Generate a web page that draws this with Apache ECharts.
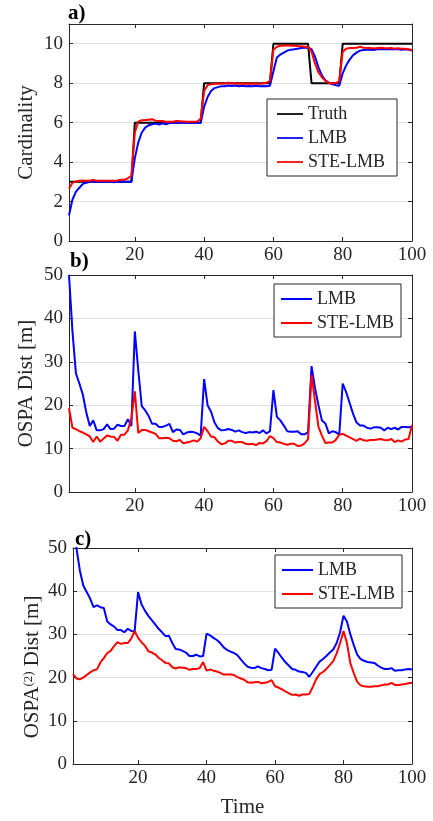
<!DOCTYPE html>
<html>
<head>
<meta charset="utf-8">
<script src="https://cdn.jsdelivr.net/npm/echarts@6/dist/echarts.min.js"></script>
<style>html,body{margin:0;padding:0;background:#fff;}#c{width:433px;height:821px;}</style>
</head>
<body>
<div id="c"></div>
<script>
// ---- data ----
const xTicks = [20, 40, 60, 80, 100];
const cardTicks = [0, 2, 4, 6, 8, 10];
const ospaTicks = [0, 10, 20, 30, 40, 50];

const truthCard = [
 3,3,3,3,3,3,3,3,3,3,3,3,3,3,3,3,3,3,3,
 6,6,6,6,6,6,6,6,6,6,6,6,6,6,6,6,6,6,6,6,
 8,8,8,8,8,8,8,8,8,8,8,8,8,8,8,8,8,8,8,8,
 10,10,10,10,10,10,10,10,10,10,10,
 8,8,8,8,8,8,8,8,8,
 10,10,10,10,10,10,10,10,10,10,10,10,10,10,10,10,10,10,10,10,10
];
const lmbCard = [
 1.3,2.1,2.5,2.7,2.9,2.95,3.0,3.0,3.02,3.0,3.0,3.0,3.0,2.98,3.02,3.0,3.0,3.0,3.0,
 4.2,5.0,5.5,5.75,5.87,5.92,5.95,5.9,5.97,5.92,5.98,6.0,6.0,6.0,6.0,6.0,5.98,6.0,6.0,5.98,
 6.8,7.3,7.6,7.75,7.8,7.85,7.85,7.88,7.86,7.88,7.85,7.87,7.84,7.86,7.85,7.87,7.84,7.86,7.85,7.87,
 8.6,9.3,9.45,9.55,9.65,9.7,9.72,9.75,9.78,9.8,9.8,
 9.72,9.35,8.8,8.4,8.15,8.02,7.95,7.9,7.87,
 8.5,8.9,9.2,9.42,9.55,9.65,9.68,9.7,9.7,9.68,9.72,9.72,9.73,9.72,9.73,9.72,9.72,9.7,9.72,9.7,9.65
];
const steCard = [
 2.65,2.95,3.02,3.05,3.07,3.05,3.05,3.1,3.05,3.05,3.05,3.05,3.05,3.05,3.07,3.1,3.1,3.18,3.3,
 5.5,6.05,6.12,6.13,6.15,6.17,6.1,6.08,6.08,6.05,6.05,6.05,6.08,6.07,6.06,6.05,6.05,6.05,6.06,6.2,
 7.6,7.9,7.95,7.97,7.97,7.98,7.98,8.02,7.98,7.98,7.97,7.98,7.97,7.98,7.97,7.98,7.97,8.0,8.02,8.12,
 9.7,9.85,9.9,9.9,9.92,9.9,9.9,9.88,9.87,9.85,9.85,
 9.6,9.0,8.55,8.3,8.12,8.02,7.98,8.0,8.1,
 9.6,9.75,9.78,9.78,9.8,9.85,9.8,9.78,9.78,9.76,9.78,9.8,9.78,9.77,9.78,9.75,9.77,9.75,9.75,9.72,9.68
];
const lmbOspa = [
 50,37,27.3,25,22.4,18.3,15.2,16.5,14.2,14.2,14.5,15.6,14.5,14.6,15.5,15.2,15.2,16.8,15.2,37,
 28,19.8,18.8,17.5,15.7,15.7,15.0,15.0,15.3,15.7,13.8,14.4,14.3,13.3,13.7,13.9,13.8,13.5,13.0,26,
 20,18.5,16,14.7,14.2,14.3,14.5,14.3,13.9,14.2,13.8,13.6,13.8,13.7,13.9,13.6,14.2,13.5,14.0,23.5,
 17.3,16.5,15.3,14.0,13.9,13.9,14.0,13.3,13.3,13.8,29,24,20,16.5,15.8,13.5,14.0,13.8,13.2,25,
 23,20.5,18,16,15.3,15.3,14.8,14.6,14.9,14.9,14.8,14.2,14.8,14.5,14.8,14.4,15.0,15.0,14.9,15.0
];
const steOspa = [
 19.3,14.8,14.5,14.0,13.7,13.3,12.8,11.5,12.8,11.6,12.3,13.0,12.8,12.7,11.8,13.2,13.2,14.2,17.0,23.2,
 13.6,14.3,14.3,14.0,13.7,13.4,12.4,12.4,12.5,12.4,11.8,11.7,12.0,11.2,11.4,11.6,11.9,11.6,12.4,15.0,
 14.0,12.8,12.6,11.6,11.0,11.2,11.8,11.8,11.4,11.5,11.5,11.1,11.0,11.1,10.8,11.3,11.2,11.7,12.9,12.4,
 11.5,11.4,11.1,10.9,11.1,11.1,10.6,10.7,11.2,12.2,27,21,15,13,11.3,11.4,11.4,12.0,13.2,13.4,
 13.0,12.6,12.2,11.8,12.3,11.9,11.8,12.0,12.0,12.1,12.2,12.0,11.9,12.2,11.5,11.9,11.6,12.1,12.2,15.4
];
const lmbOspa2 = [
 53,50,44.8,41.3,39.8,38.3,36.3,36.7,36.3,36.1,33.0,32.3,31.8,31.0,31.0,30.5,31.3,30.8,30.7,39.8,
 37.0,35.5,34.3,33.3,32.3,31.3,30.5,29.6,29.7,28.0,26.6,26.5,26.2,25.8,25.0,25.0,25.3,24.9,25.0,30.2,
 29.8,29.2,28.7,28.0,27.0,26.4,26.0,25.7,25.2,24.2,23.3,22.5,22.3,22.2,22.6,22.2,22.0,21.7,21.8,26.7,
 25.7,24.6,23.6,22.8,22.0,21.8,21.4,21.3,21.1,20.2,21.3,22.5,23.7,24.3,25.0,25.8,26.5,28.0,30.5,34.3,
 33.0,30.0,27.5,25.3,24.3,23.9,23.6,23.5,23.4,22.8,22.3,22.0,22.0,22.2,21.6,21.7,21.7,21.9,22.0,21.9
];
const steOspa2 = [
 20.8,19.8,19.6,20.0,20.6,21.2,21.7,21.9,23.5,24.5,25.7,26.2,27.3,28.2,27.8,28.0,28.0,29.0,30.8,29.2,
 28.2,27.4,26.1,25.8,25.4,24.6,24.0,23.4,23.3,22.4,22.1,22.4,22.3,22.2,21.8,22.0,22.0,22.2,23.6,21.6,
 21.9,21.6,21.4,21.1,20.7,20.7,20.7,20.6,20.1,19.8,19.5,18.9,18.8,18.9,19.0,18.7,18.8,19.0,19.4,18.0,
 17.7,17.3,16.8,16.4,16.0,16.1,15.8,16.1,16.1,16.2,17.8,19.6,20.8,21.3,22.0,22.9,23.8,25.6,28.0,30.8,
 28.0,23.3,21.0,19.0,18.2,18.0,17.9,17.9,18.0,18.0,18.2,18.4,18.4,18.8,18.3,18.3,18.4,18.5,18.7,18.8
];

// ---- chart ----
const FONT = '"Liberation Serif", "Times New Roman", serif';
const TXT = '#262626';
const pair = arr => arr.map((v, i) => [i + 1, v]);

const grids = [
  {left: 69, right: 21, top: 24, height: 217},
  {left: 69, right: 21, top: 275, height: 217},
  {left: 73, right: 21, top: 548, height: 216}
];
const yMax = [11, 50, 50];
const yTicks = [cardTicks, ospaTicks, ospaTicks];
const yNames = ['Cardinality', 'OSPA Dist [m]', 'OSPA{sup|(2)} Dist [m]'];

const xAxis = [], yAxis = [];
grids.forEach((g, k) => {
  const tick = {show: true, inside: true, length: 4, customValues: xTicks, lineStyle: {color: TXT}};
  xAxis.push({
    type: 'value', gridIndex: k, min: 1, max: 100, position: 'bottom',
    axisLine: {show: true, onZero: false, lineStyle: {color: TXT, width: 1}},
    axisTick: tick,
    axisLabel: {customValues: xTicks, color: TXT, fontFamily: FONT, fontSize: 19, margin: 5},
    splitLine: {show: false},
    name: k === 2 ? 'Time' : '', nameLocation: 'middle', nameGap: 33, nameMoveOverlap: false,
    nameTextStyle: {color: TXT, fontFamily: FONT, fontSize: 21}
  });
  xAxis.push({
    type: 'value', gridIndex: k, min: 1, max: 100, position: 'top',
    axisLine: {show: true, onZero: false, lineStyle: {color: TXT, width: 1}},
    axisTick: tick, axisLabel: {show: false}, splitLine: {show: false}
  });
  const ytick = {show: true, inside: true, length: 4, customValues: yTicks[k], lineStyle: {color: TXT}};
  yAxis.push({
    type: 'value', gridIndex: k, min: 0, max: yMax[k], position: 'left',
    axisLine: {show: true, onZero: false, lineStyle: {color: TXT, width: 1}},
    axisTick: ytick,
    axisLabel: {customValues: yTicks[k], color: TXT, fontFamily: FONT, fontSize: 19, margin: 6},
    splitLine: {show: true, lineStyle: {color: '#e0e0e0', width: 1}},
    name: yNames[k], nameLocation: 'middle', nameGap: k === 2 ? 30 : 32, nameRotate: 90,
    nameMoveOverlap: false,
    nameTextStyle: {color: TXT, fontFamily: FONT, fontSize: 21,
      padding: k === 2 ? [0, 22, 0, 0] : 0,
      rich: {sup: {fontSize: 13, fontFamily: FONT, color: TXT, padding: [0, 0, 8, 0]}}}
  });
  yAxis.push({
    type: 'value', gridIndex: k, min: 0, max: yMax[k], position: 'right',
    axisLine: {show: true, onZero: false, lineStyle: {color: TXT, width: 1}},
    axisTick: ytick, axisLabel: {show: false}, splitLine: {show: false}
  });
});

const line = (name, data, color, k, w) => ({
  name, type: 'line', data: pair(data), xAxisIndex: 2 * k, yAxisIndex: 2 * k,
  showSymbol: false, symbol: 'none', smooth: false, clip: true,
  lineStyle: {color, width: w || 2}, itemStyle: {color}, animation: false
});

const series = [
  line('Truth', truthCard, '#000000', 0, 2),
  line('LMB', lmbCard, '#0000ff', 0),
  line('STE-LMB', steCard, '#ff0000', 0),
  line('LMB', lmbOspa, '#0000ff', 1),
  line('STE-LMB', steOspa, '#ff0000', 1),
  line('LMB', lmbOspa2, '#0000ff', 2),
  line('STE-LMB', steOspa2, '#ff0000', 2)
];
series.forEach((s, i) => { s.id = 's' + i; });

const legendBase = {
  orient: 'vertical', backgroundColor: '#fff', borderColor: TXT, borderWidth: 1,
  itemGap: 6, itemHeight: 14, icon: 'path://M0,6L30,6L30,8L0,8Z',
  textStyle: {color: TXT, fontFamily: FONT, fontSize: 18}, selectedMode: false
};
const legend = [
  Object.assign({}, legendBase, {left: 267, top: 99, itemWidth: 26, padding: [6, 12, 5, 10],
    data: [{name: 'Truth', itemStyle: {color: '#000'}}, {name: 'LMB', itemStyle: {color: '#0000ff'}}, {name: 'STE-LMB', itemStyle: {color: '#ff0000'}}]}),
  Object.assign({}, legendBase, {left: 274, top: 284, itemWidth: 31, padding: [6, 7, 5, 7],
    data: [{name: 'LMB', itemStyle: {color: '#0000ff'}}, {name: 'STE-LMB', itemStyle: {color: '#ff0000'}}]}),
  Object.assign({}, legendBase, {left: 275, top: 555, itemWidth: 31, padding: [6, 7, 5, 7],
    data: [{name: 'LMB', itemStyle: {color: '#0000ff'}}, {name: 'STE-LMB', itemStyle: {color: '#ff0000'}}]})
];

const panel = (t, x, y) => ({type: 'text', left: x, top: y, z: 100,
  style: {text: t, fill: '#000', font: 'bold 21px ' + FONT}});

const chart = echarts.init(document.getElementById('c'), null, {renderer: 'canvas'});
chart.setOption({
  backgroundColor: '#fff',
  animation: false,
  grid: grids.map(g => Object.assign({containLabel: false}, g)),
  xAxis, yAxis, series, legend,
  graphic: [panel('a)', 68, 3), panel('b)', 70, 251), panel('c)', 75, 529)]
});
</script>
</body>
</html>
